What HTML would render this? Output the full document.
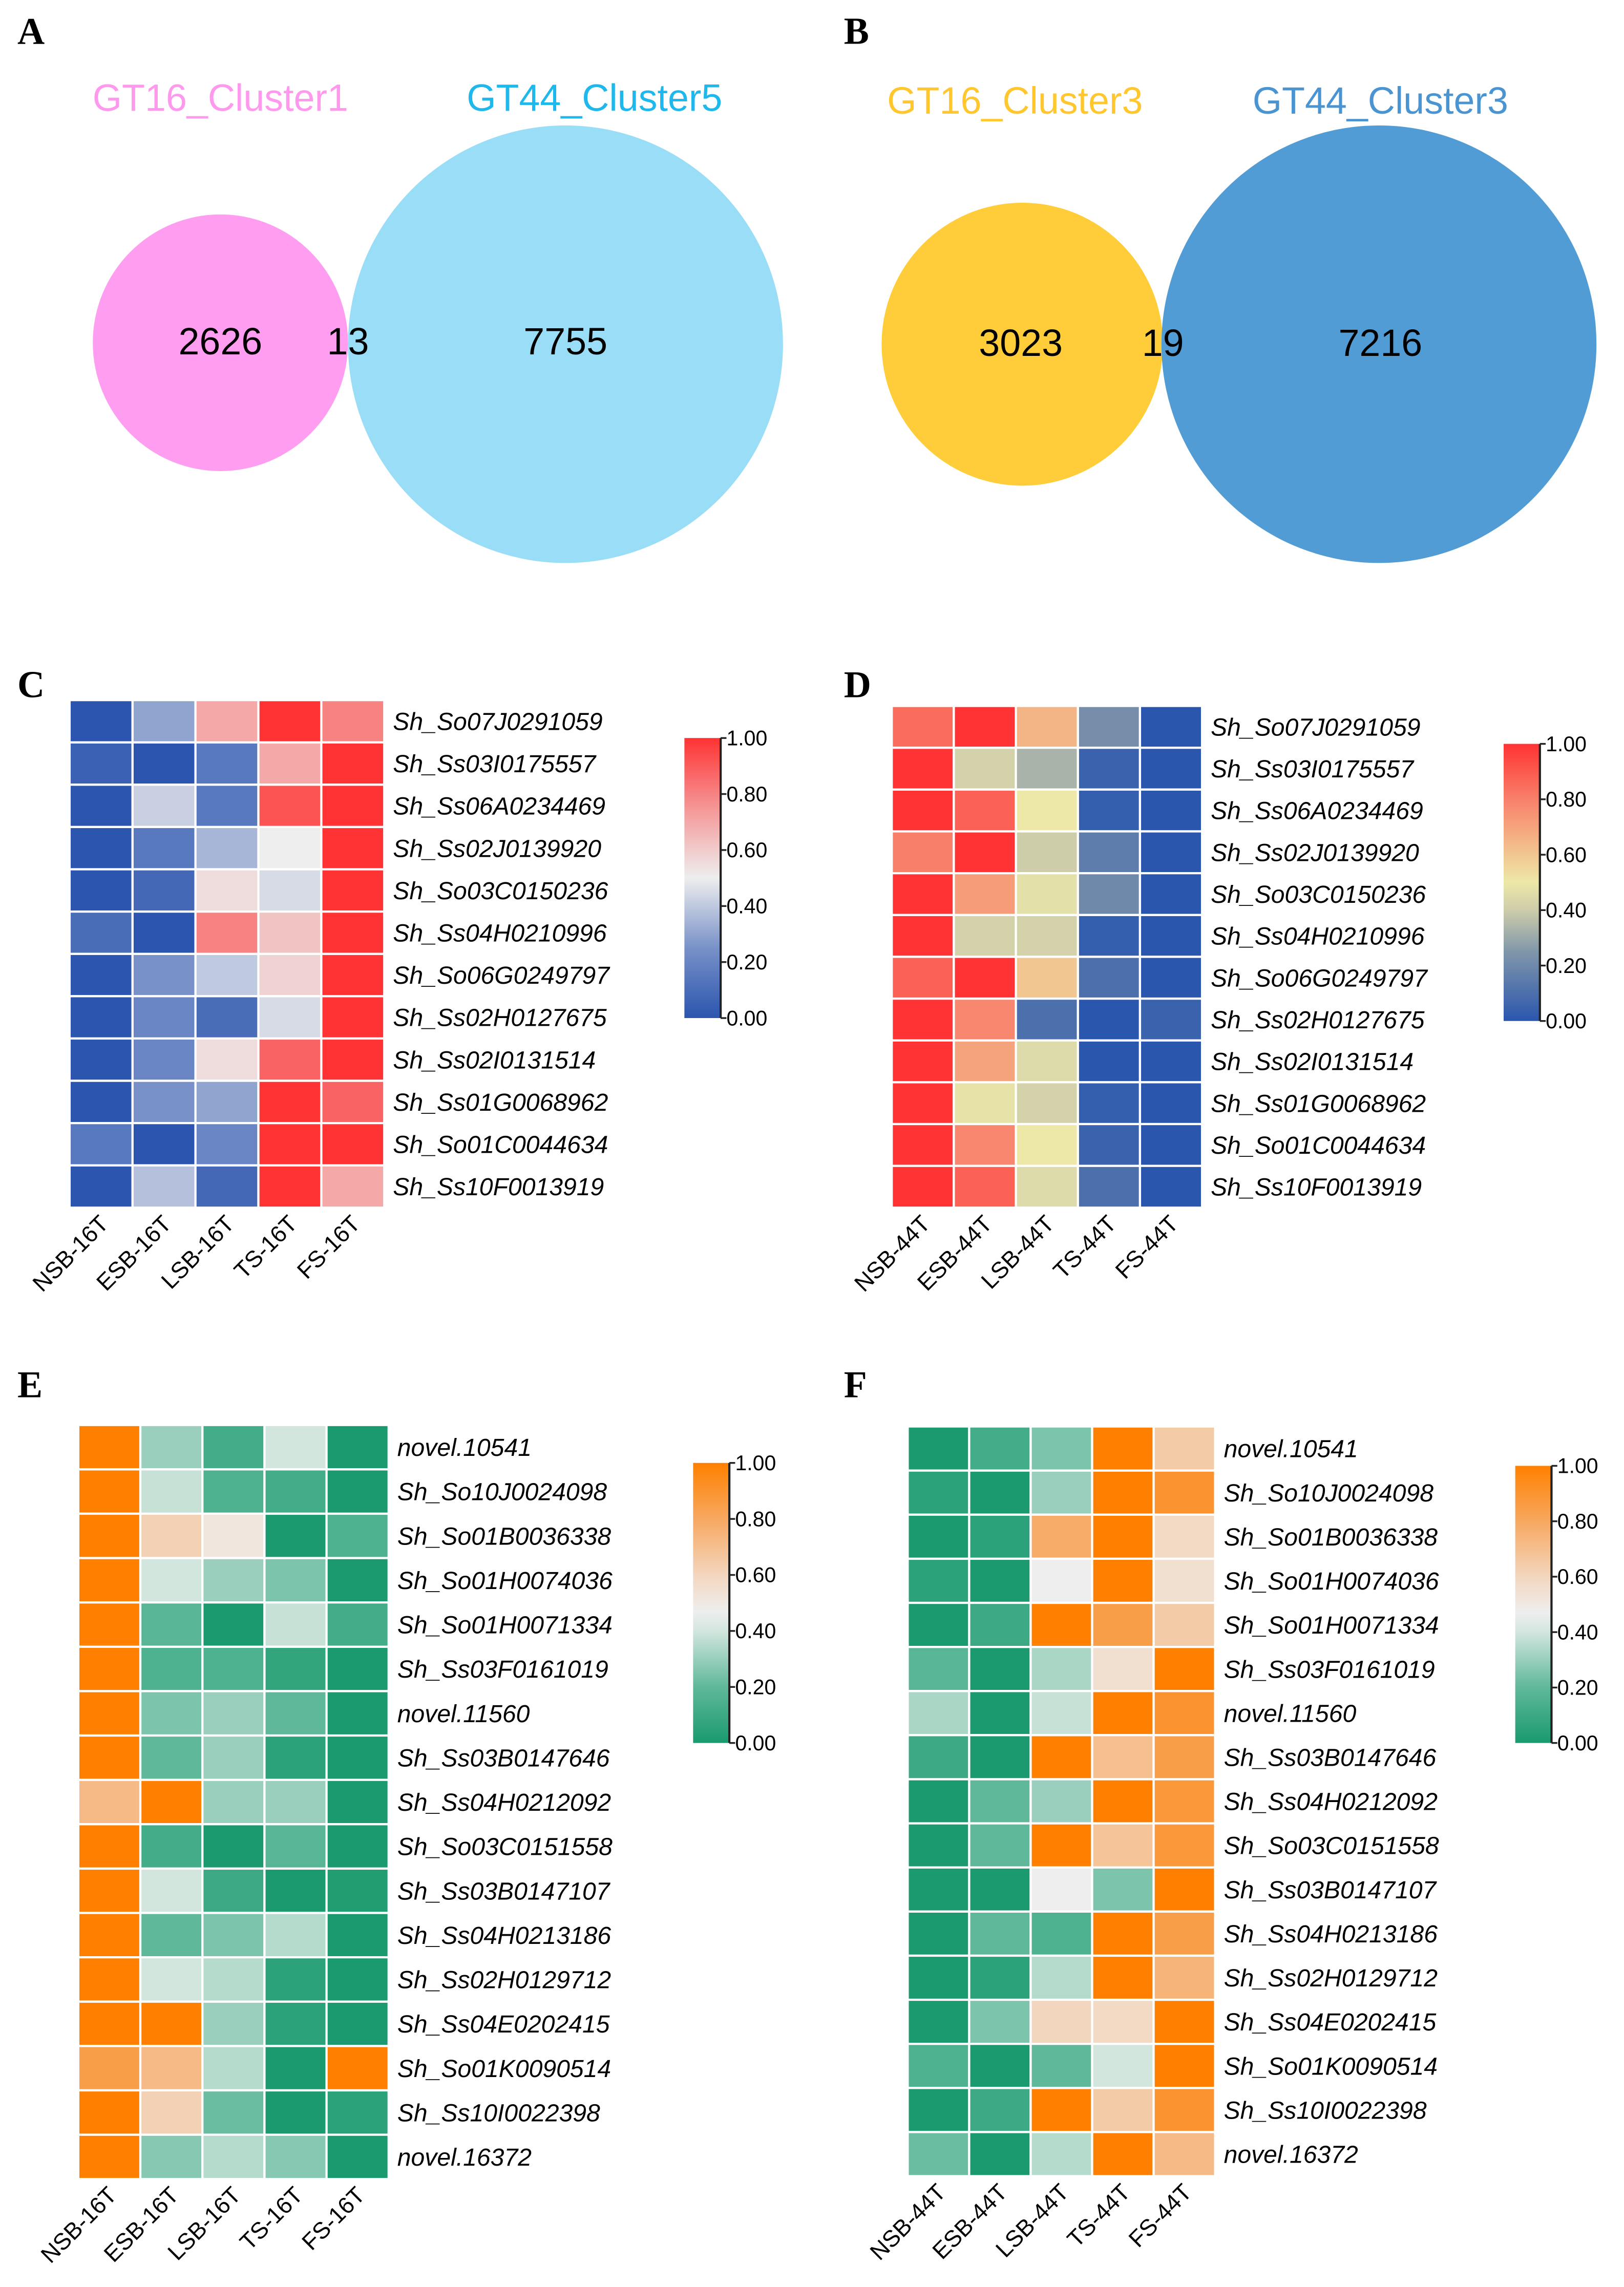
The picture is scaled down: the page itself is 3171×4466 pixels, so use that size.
<!DOCTYPE html>
<html><head><meta charset="utf-8"><style>
html,body{margin:0;padding:0;background:#fff;}
svg{display:block;}
text{font-family:"Liberation Sans",Arial,sans-serif;}
.pl{font-family:"Liberation Serif",serif;font-weight:bold;font-size:26px;}
</style></head><body>
<svg id="fig" width="3171" height="4466" viewBox="0 0 1120 1568" preserveAspectRatio="none" xmlns="http://www.w3.org/2000/svg">
<rect width="1120" height="1568" fill="#fff"/>
<text class="pl" x="12" y="30">A</text>
<text class="pl" x="582" y="30">B</text>
<text class="pl" x="12" y="478">C</text>
<text class="pl" x="582" y="478">D</text>
<text class="pl" x="12" y="958">E</text>
<text class="pl" x="582" y="958">F</text>

<g>
<circle cx="152" cy="235" r="88" fill="#FF9EF0"/>
<circle cx="390" cy="236" r="150" fill="#99DDF7"/>
<text x="152" y="76" font-size="26" fill="#FF99EE" text-anchor="middle">GT16_Cluster1</text>
<text x="410" y="76" font-size="26" fill="#1EB8EC" text-anchor="middle">GT44_Cluster5</text>
<text x="152" y="243" font-size="26" text-anchor="middle">2626</text>
<text x="240" y="243" font-size="26" text-anchor="middle">13</text>
<text x="390" y="243" font-size="26" text-anchor="middle">7755</text>
</g>
<g>
<circle cx="705" cy="236" r="97" fill="#FFCC3A"/>
<circle cx="951" cy="236" r="150" fill="#519CD5"/>
<text x="700" y="78" font-size="26" fill="#FFC62E" text-anchor="middle">GT16_Cluster3</text>
<text x="952" y="78" font-size="26" fill="#4A94D2" text-anchor="middle">GT44_Cluster3</text>
<text x="704" y="244" font-size="26" text-anchor="middle">3023</text>
<text x="802" y="244" font-size="26" text-anchor="middle">19</text>
<text x="952" y="244" font-size="26" text-anchor="middle">7216</text>
</g>
<g id="heat"></g>
</svg>
<script>
const genesCD = ["Sh_So07J0291059","Sh_Ss03I0175557","Sh_Ss06A0234469","Sh_Ss02J0139920","Sh_So03C0150236","Sh_Ss04H0210996","Sh_So06G0249797","Sh_Ss02H0127675","Sh_Ss02I0131514","Sh_Ss01G0068962","Sh_So01C0044634","Sh_Ss10F0013919"];
const genesEF = ["novel.10541","Sh_So10J0024098","Sh_So01B0036338","Sh_So01H0074036","Sh_So01H0071334","Sh_Ss03F0161019","novel.11560","Sh_Ss03B0147646","Sh_Ss04H0212092","Sh_So03C0151558","Sh_Ss03B0147107","Sh_Ss04H0213186","Sh_Ss02H0129712","Sh_Ss04E0202415","Sh_So01K0090514","Sh_Ss10I0022398","novel.16372"];
const samples16 = ["NSB-16T","ESB-16T","LSB-16T","TS-16T","FS-16T"];
const samples44 = ["NSB-44T","ESB-44T","LSB-44T","TS-44T","FS-44T"];
const ticks = ["0.00","0.20","0.40","0.60","0.80","1.00"];
const valuesC = [
[0,0.3,0.7,1,0.8],[0.05,0,0.15,0.7,1],[0,0.42,0.15,0.92,1],[0,0.15,0.35,0.5,1],
[0,0.08,0.55,0.45,1],[0.1,0,0.8,0.62,1],[0,0.25,0.4,0.58,1],[0,0.2,0.1,0.45,1],
[0,0.2,0.55,0.88,1],[0,0.25,0.3,1,0.88],[0.15,0,0.2,1,1],[0,0.38,0.08,1,0.7]];
const valuesD = [
[0.85,1,0.65,0.22,0],[1,0.42,0.33,0.05,0],[1,0.88,0.5,0.03,0],[0.8,1,0.4,0.15,0],
[1,0.72,0.47,0.2,0],[1,0.42,0.42,0.03,0],[0.88,1,0.6,0.1,0],[1,0.78,0.1,0,0.05],
[1,0.7,0.45,0,0],[1,0.48,0.42,0.03,0],[1,0.78,0.5,0.05,0],[1,0.88,0.45,0.1,0]];
const valuesE = [
[1,0.3,0.12,0.4,0],[1,0.38,0.15,0.12,0],[1,0.62,0.52,0,0.15],[1,0.4,0.3,0.25,0],
[1,0.18,0,0.38,0.12],[1,0.15,0.15,0.07,0],[1,0.25,0.3,0.2,0],[1,0.2,0.3,0.05,0],
[0.72,1,0.3,0.3,0],[1,0.12,0,0.18,0],[1,0.4,0.1,0,0.02],[1,0.2,0.25,0.35,0],
[1,0.4,0.35,0.05,0],[1,1,0.3,0.05,0],[0.85,0.72,0.35,0,1],[1,0.62,0.22,0,0.05],[1,0.27,0.35,0.27,0]];
const valuesF = [
[0,0.12,0.25,1,0.65],[0.05,0,0.3,1,0.9],[0,0.05,0.78,1,0.58],[0.05,0,0.47,1,0.55],
[0,0.1,1,0.85,0.65],[0.18,0,0.33,0.55,1],[0.33,0,0.38,1,0.9],[0.1,0,1,0.7,0.85],
[0,0.2,0.3,1,0.88],[0,0.2,1,0.68,0.88],[0,0,0.47,0.25,1],[0,0.2,0.15,1,0.85],
[0,0.05,0.35,1,0.75],[0,0.25,0.6,0.58,1],[0.15,0,0.2,0.4,1],[0,0.1,1,0.65,0.9],[0.22,0,0.35,1,0.72]];

const cmapBR=[[0,[43,85,174]],[0.25,[120,145,200]],[0.5,[238,238,238]],[0.75,[245,150,150]],[1,[255,51,51]]];
const cmapBY=[[0,[42,86,174]],[0.25,[128,150,170]],[0.4,[205,205,170]],[0.5,[237,232,168]],[0.65,[244,181,134]],[0.8,[248,128,106]],[1,[255,51,51]]];
const cmapGO=[[0,[26,154,110]],[0.2,[95,184,154]],[0.4,[210,230,222]],[0.47,[238,238,238]],[0.6,[243,214,190]],[0.8,[247,168,96]],[1,[255,128,0]]];
function col(c,v){v=Math.max(0,Math.min(1,v));for(let i=1;i<c.length;i++){if(v<=c[i][0]){const a=c[i-1],b=c[i],t=(v-a[0])/(b[0]-a[0]);return 'rgb('+a[1].map((x,k)=>Math.round(x+(b[1][k]-x)*t)).join(',')+')';}}return 'rgb('+c[c.length-1][1].join(',')+')';}
const NS='http://www.w3.org/2000/svg';
const root=document.getElementById('heat');
function mk(tag,attrs,parent){const e=document.createElementNS(NS,tag);for(const k in attrs)e.setAttribute(k,attrs[k]);parent.appendChild(e);return e;}
function heat(id,x0,y0,x1,y1,rows,cols,vals,cmap,cb){
  const g=mk('g',{},root);
  
  
  const cw=(x1-x0)/cols.length, rh=(y1-y0)/rows.length;
  vals.forEach((row,i)=>row.forEach((v,j)=>{
    const r=mk('rect',{x:x0+j*cw,y:y0+i*rh,width:cw,height:rh,fill:col(cmap,v),stroke:'#fff','stroke-width':1.5},g);
    
    
  }));
  rows.forEach((n,i)=>{
    const t=mk('text',{x:x1+6,y:y0+(i+0.5)*rh+6,'font-size':17,'font-style':'italic'},g);t.textContent=n;
    
    
  });
  cols.forEach((n,j)=>{
    const cx=x0+(j+0.5)*cw+6, cy=y1+12;
    const t=mk('text',{x:cx,y:cy,'font-size':16,'text-anchor':'end',transform:'rotate(-45 '+cx+' '+cy+')'},g);t.textContent=n;
    
    
  });
  const [bx,by0,by1]=cb, bw=25;
  const defs=mk('defs',{},g);const gr=mk('linearGradient',{id:'gr'+id,x1:0,y1:1,x2:0,y2:0},defs);
  cmap.forEach(s=>mk('stop',{offset:s[0],'stop-color':'rgb('+s[1].join(',')+')'},gr));
  const bar=mk('rect',{x:bx,y:by0,width:bw,height:by1-by0,fill:'url(#gr'+id+')'},g);
  
  
  mk('line',{x1:bx+bw,y1:by0,x2:bx+bw,y2:by1,stroke:'#222','stroke-width':1.5},g);
  ticks.forEach((tk,k)=>{
    const y=by1-(by1-by0)*parseFloat(tk);
    mk('line',{x1:bx+bw,y1:y,x2:bx+bw+4,y2:y,stroke:'#222','stroke-width':1.2},g);
    const t=mk('text',{x:bx+bw+4,y:y+5,'font-size':14.5},g);t.textContent=tk;
    
    
  });
}
heat('c',48,480,265,828,genesCD,samples16,valuesC,cmapBR,[472,506,698]);
heat('d',615,484,829,828,genesCD,samples44,valuesD,cmapBY,[1037,510,700]);
heat('e',54,977,268,1494,genesEF,samples16,valuesE,cmapGO,[478,1003,1195]);
heat('f',626,978,838,1492,genesEF,samples44,valuesF,cmapGO,[1045,1005,1195]);
</script>
</body></html>
